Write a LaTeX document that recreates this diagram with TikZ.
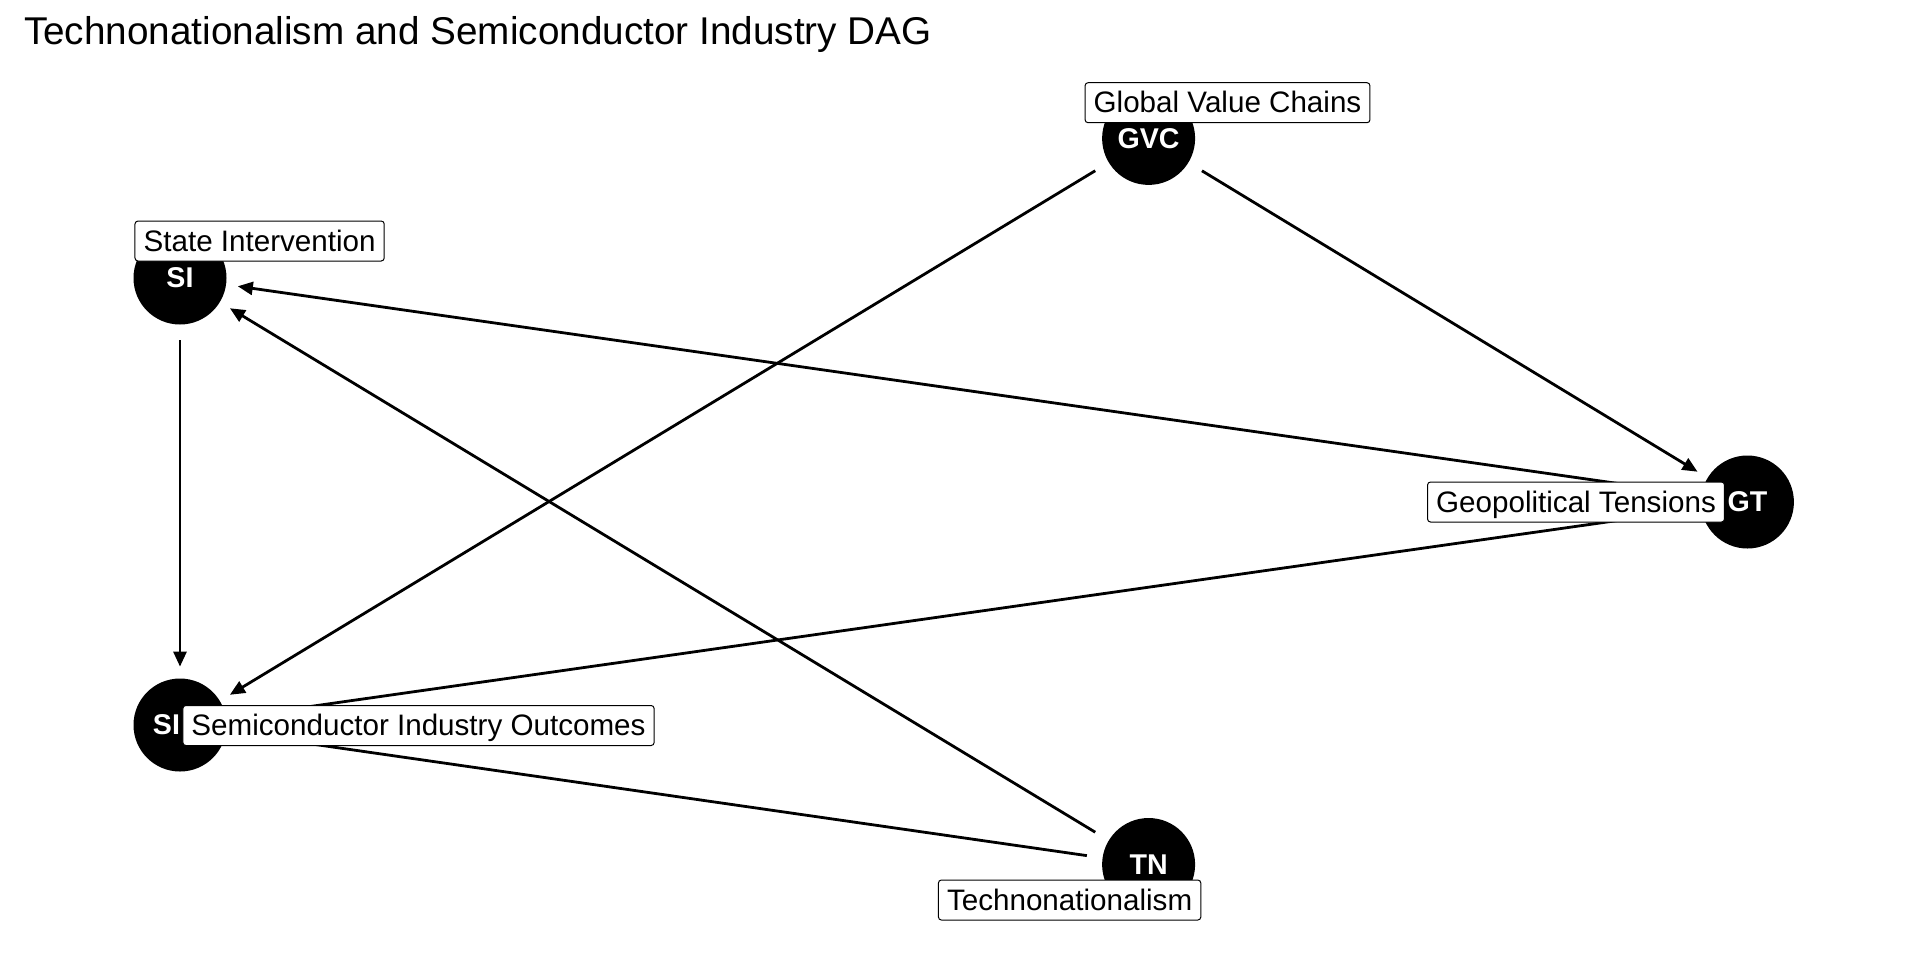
\documentclass[tikz,border=0pt]{standalone}
\usepackage{fontspec}
\setmainfont{Liberation Sans}
\usetikzlibrary{arrows.meta}
\begin{document}
\begin{tikzpicture}[x=0.5pt,y=-0.5pt,
  dagnode/.style={circle,fill=black,minimum size=46.5pt,inner sep=0pt,text=white,font=\fontsize{14.3}{17}\selectfont\bfseries},
  daglabel/.style={draw=black,fill=white,rounded corners=1.5pt,line width=0.5pt,inner xsep=4.3pt,inner ysep=0pt,text height=11.5pt,text depth=1.5pt,minimum height=20pt,font=\fontsize{14.8}{17}\selectfont},
  dagedge/.style={line width=1.4pt,-{Triangle[length=7.5pt,width=6.5pt]},shorten <=7.75pt,shorten >=5.75pt}]
\useasboundingbox (0,0) rectangle (1920,960);
\node[anchor=base west,font=\fontsize{19.35}{23}\selectfont] (title) at (17,44) {Technonationalism and Semiconductor Industry DAG};
% nodes
\node[dagnode] (GVC) at (1148.6,138.4) {GVC};
\node[dagnode] (SI) at (180,278) {SI};
\node[dagnode] (GT) at (1747.4,502) {GT};
\node[dagnode] (SIO) at (180,725) {SI\hspace*{13.5pt}};
\node[dagnode] (TN) at (1148.6,864.5) {TN};
% edges
\draw[dagedge] (GVC) -- (GT);
\draw[dagedge] (GVC) -- (SIO);
\draw[dagedge] (GT) -- (SI);
\draw[dagedge] (GT) -- (SIO);
\draw[dagedge] (TN) -- (SI);
\draw[dagedge] (TN) -- (SIO);
\draw[dagedge] (SI) -- (SIO);
% labels
\node[daglabel] (lGVC) at (1227.5,102.7) {Global Value Chains};
\node[daglabel] (lSI) at (259.6,241) {State Intervention};
\node[daglabel] (lGT) at (1576,502) {Geopolitical Tensions};
\node[daglabel] (lSIO) at (418.5,725.5) {Semiconductor Industry Outcomes};
\node[daglabel] (lTN) at (1069.6,900) {Technonationalism};
\end{tikzpicture}
\end{document}
